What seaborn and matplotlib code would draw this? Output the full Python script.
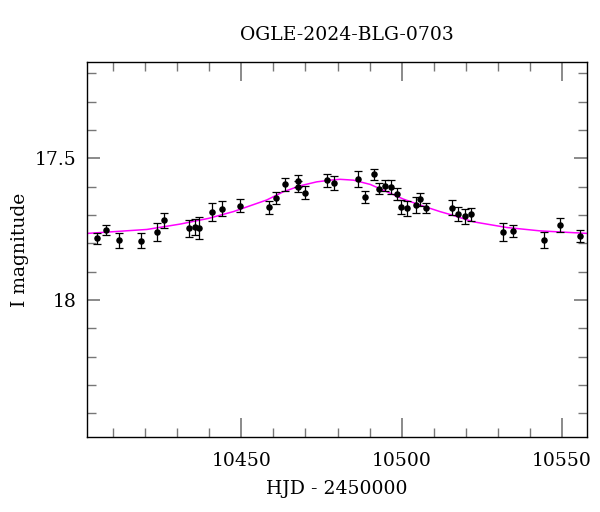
import matplotlib
matplotlib.use("Agg")
import matplotlib.pyplot as plt
import seaborn as sns
import pandas as pd
from matplotlib.ticker import MultipleLocator

# Observations
hjd = [10404.9, 10407.8, 10411.7, 10418.7, 10423.7, 10425.9, 10433.7, 10435.6,
       10436.9, 10440.8, 10443.9, 10449.6, 10458.6, 10460.8, 10463.6, 10467.6,
       10467.8, 10469.9, 10476.8, 10478.8, 10486.5, 10488.6, 10491.5, 10492.9,
       10494.8, 10496.6, 10498.5, 10499.8, 10501.8, 10504.5, 10505.9, 10507.7,
       10515.7, 10517.7, 10519.8, 10521.8, 10531.7, 10534.7, 10544.6, 10549.6,
       10555.6]
mag = [17.782, 17.753, 17.789, 17.791, 17.761, 17.719, 17.747, 17.742,
       17.747, 17.690, 17.678, 17.667, 17.673, 17.641, 17.592, 17.581,
       17.600, 17.621, 17.578, 17.586, 17.573, 17.638, 17.556, 17.607,
       17.597, 17.601, 17.625, 17.671, 17.676, 17.664, 17.644, 17.675,
       17.674, 17.696, 17.704, 17.698, 17.761, 17.757, 17.788, 17.734,
       17.774]
err = [0.019, 0.019, 0.026, 0.026, 0.032, 0.026, 0.031, 0.029,
       0.039, 0.031, 0.026, 0.024, 0.024, 0.021, 0.022, 0.021,
       0.020, 0.024, 0.024, 0.025, 0.029, 0.021, 0.019, 0.020,
       0.019, 0.026, 0.021, 0.025, 0.027, 0.029, 0.023, 0.019,
       0.026, 0.025, 0.026, 0.024, 0.032, 0.022, 0.029, 0.025,
       0.022]

# Model curve
model_hjd = [10401.9, 10420.5, 10430.9, 10439.7, 10447.5, 10457.9, 10463.1,
             10468.3, 10473.5, 10477.7, 10480.8, 10485.0, 10490.2, 10495.4,
             10500.6, 10505.8, 10512.0, 10515.1, 10522.4, 10532.8, 10543.2,
             10558.0]
model_mag = [17.765, 17.751, 17.732, 17.712, 17.688, 17.647, 17.618,
             17.597, 17.583, 17.577, 17.574, 17.577, 17.592, 17.618,
             17.644, 17.665, 17.688, 17.698, 17.724, 17.744, 17.756,
             17.765]

title = "OGLE-2024-BLG-0703"
xlabel = "HJD - 2450000"
ylabel = "I magnitude"

sns.set_style("white")
plt.rcParams["font.family"] = ["DejaVu Serif"]
plt.rcParams["text.color"] = "black"

obs = pd.DataFrame({"hjd": hjd, "mag": mag, "err": err})
model = pd.DataFrame({"hjd": model_hjd, "mag": model_mag})

fig = plt.figure(figsize=(6.0, 5.12), dpi=100)
ax = fig.add_axes([0.1455, 0.1471, 0.979 - 0.1455, 0.8783 - 0.1471])

sns.lineplot(data=model, x="hjd", y="mag", ax=ax, color="#ff00ff",
             linewidth=1.1, sort=False, zorder=1)
ax.errorbar(obs["hjd"], obs["mag"], yerr=obs["err"], fmt="none",
            ecolor="black", elinewidth=0.9, capsize=2.8, capthick=0.9,
            zorder=2)
sns.scatterplot(data=obs, x="hjd", y="mag", ax=ax, color="black", s=22,
                edgecolor="black", linewidth=0, zorder=3)

ax.set_xlim(10401.9, 10558.0)
ax.set_ylim(18.4825, 17.161)

ax.xaxis.set_major_locator(MultipleLocator(50))
ax.xaxis.set_minor_locator(MultipleLocator(10))
ax.yaxis.set_major_locator(MultipleLocator(0.5))
ax.yaxis.set_minor_locator(MultipleLocator(0.1))
ax.yaxis.set_major_formatter(plt.FuncFormatter(lambda v, p: f"{v:g}"))

ax.tick_params(axis="x", which="major", direction="in", top=True, bottom=True,
               length=14, width=1.2, color="#777777", labelsize=13.5, pad=11,
               labelcolor="black")
ax.tick_params(axis="x", which="minor", direction="in", top=True, bottom=True,
               length=6.5, width=1.0, color="#777777")
ax.tick_params(axis="y", which="major", direction="in", left=True, right=True,
               length=9.5, width=1.2, color="#777777", labelsize=13.5, pad=8,
               labelcolor="black")
ax.tick_params(axis="y", which="minor", direction="in", left=True, right=True,
               length=6.5, width=1.0, color="#777777")

for s in ax.spines.values():
    s.set_color("black")
    s.set_linewidth(1.0)
    s.set_visible(True)

ax.set_xlabel("")
ax.set_ylabel("")
fig.text(337 / 600, 1 - 489 / 512, xlabel, ha="center", va="center",
         fontsize=13.5, color="black")
fig.text(20 / 600, 1 - 250 / 512, ylabel, ha="center", va="center",
         rotation=90, fontsize=13.5, color="black")
fig.text(347 / 600, 1 - 35 / 512, title, ha="center", va="center",
         fontsize=13.5, color="black")

fig.savefig("out.png", dpi=100)
